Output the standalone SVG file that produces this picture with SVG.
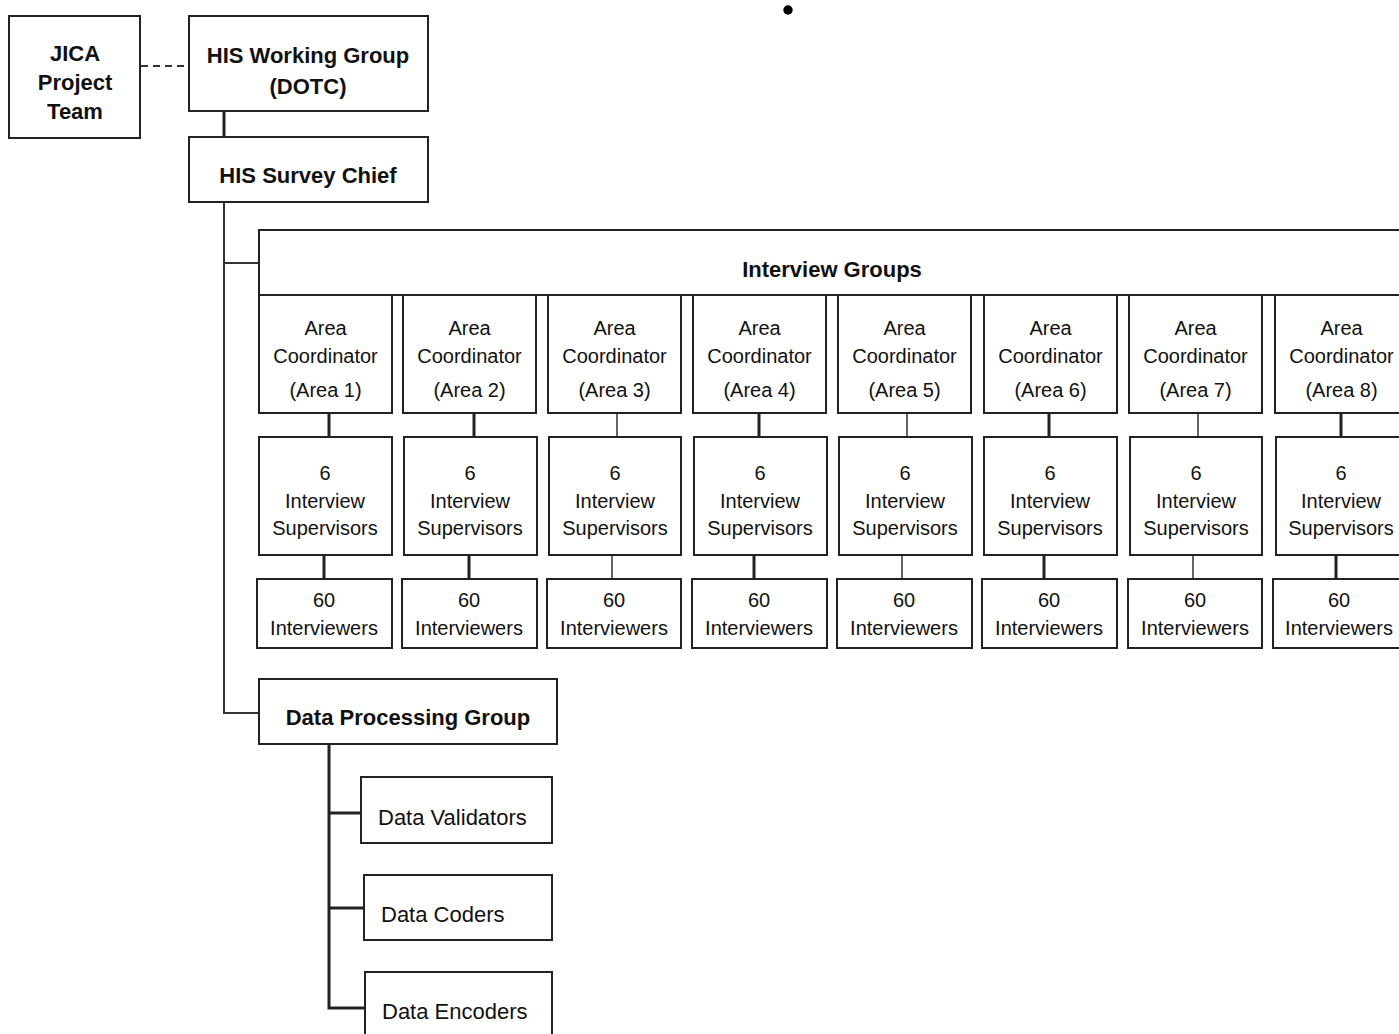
<svg xmlns="http://www.w3.org/2000/svg" width="1399" height="1034" viewBox="0 0 1399 1034">
<style>
.box{fill:#fff;stroke:#222;stroke-width:2}
.b{font-family:"Liberation Sans",Arial,sans-serif;font-weight:bold;font-size:22px;fill:#111;text-anchor:middle}
.t{font-family:"Liberation Sans",Arial,sans-serif;font-size:20px;fill:#111;text-anchor:middle}
.tl{font-family:"Liberation Sans",Arial,sans-serif;font-size:22px;fill:#111}
.c{stroke:#222;stroke-width:3;fill:none}
.cm{stroke:#333;stroke-width:2;fill:none}
.ct{stroke:#333;stroke-width:1.5;fill:none}
</style>
<rect width="1399" height="1034" fill="#fff"/>
<circle cx="788" cy="10" r="4.7" fill="#000"/>
<g id="connectors">
<line class="cm" x1="141" y1="66" x2="189" y2="66" stroke-dasharray="7,5"/>
<line class="c" x1="224" y1="111" x2="224" y2="137"/>
<polyline class="cm" points="224,202 224,713 259,713"/>
<line class="cm" x1="224" y1="263" x2="259" y2="263"/>
<polyline class="c" points="329,744 329,1008 365,1008"/>
<line class="c" x1="329" y1="813" x2="361" y2="813"/>
<line class="c" x1="329" y1="908" x2="364" y2="908"/>
<line class="c" x1="329" y1="413" x2="329" y2="437"/>
<line class="c" x1="324" y1="555" x2="324" y2="579"/>
<line class="c" x1="474" y1="413" x2="474" y2="437"/>
<line class="c" x1="469" y1="555" x2="469" y2="579"/>
<line class="ct" x1="617" y1="413" x2="617" y2="437"/>
<line class="ct" x1="612" y1="555" x2="612" y2="579"/>
<line class="c" x1="759" y1="413" x2="759" y2="437"/>
<line class="c" x1="754" y1="555" x2="754" y2="579"/>
<line class="ct" x1="907" y1="413" x2="907" y2="437"/>
<line class="ct" x1="902" y1="555" x2="902" y2="579"/>
<line class="c" x1="1049" y1="413" x2="1049" y2="437"/>
<line class="c" x1="1044" y1="555" x2="1044" y2="579"/>
<line class="ct" x1="1198" y1="413" x2="1198" y2="437"/>
<line class="ct" x1="1193" y1="555" x2="1193" y2="579"/>
<line class="c" x1="1341" y1="413" x2="1341" y2="437"/>
<line class="c" x1="1336" y1="555" x2="1336" y2="579"/>
</g>
<g id="jica"><rect class="box" x="9" y="16" width="131" height="122"/>
<text class="b" x="75" y="61">JICA</text><text class="b" x="75" y="90">Project</text><text class="b" x="75" y="119">Team</text></g>
<g id="working-group"><rect class="box" x="189" y="16" width="239" height="95"/>
<text class="b" x="308" y="63">HIS Working Group</text><text class="b" x="308" y="94">(DOTC)</text></g>
<g id="survey-chief"><rect class="box" x="189" y="137" width="239" height="65"/>
<text class="b" x="308" y="183">HIS Survey Chief</text></g>
<g id="interview-groups"><rect class="box" x="259" y="230" width="1150" height="65"/>
<text class="b" x="832" y="277">Interview Groups</text></g>
<g id="ac1"><rect class="box" x="259" y="295" width="133" height="118"/><text class="t" x="325.5" y="335">Area</text><text class="t" x="325.5" y="363">Coordinator</text><text class="t" x="325.5" y="397">(Area 1)</text></g>
<g id="ac2"><rect class="box" x="403" y="295" width="133" height="118"/><text class="t" x="469.5" y="335">Area</text><text class="t" x="469.5" y="363">Coordinator</text><text class="t" x="469.5" y="397">(Area 2)</text></g>
<g id="ac3"><rect class="box" x="548" y="295" width="133" height="118"/><text class="t" x="614.5" y="335">Area</text><text class="t" x="614.5" y="363">Coordinator</text><text class="t" x="614.5" y="397">(Area 3)</text></g>
<g id="ac4"><rect class="box" x="693" y="295" width="133" height="118"/><text class="t" x="759.5" y="335">Area</text><text class="t" x="759.5" y="363">Coordinator</text><text class="t" x="759.5" y="397">(Area 4)</text></g>
<g id="ac5"><rect class="box" x="838" y="295" width="133" height="118"/><text class="t" x="904.5" y="335">Area</text><text class="t" x="904.5" y="363">Coordinator</text><text class="t" x="904.5" y="397">(Area 5)</text></g>
<g id="ac6"><rect class="box" x="984" y="295" width="133" height="118"/><text class="t" x="1050.5" y="335">Area</text><text class="t" x="1050.5" y="363">Coordinator</text><text class="t" x="1050.5" y="397">(Area 6)</text></g>
<g id="ac7"><rect class="box" x="1129" y="295" width="133" height="118"/><text class="t" x="1195.5" y="335">Area</text><text class="t" x="1195.5" y="363">Coordinator</text><text class="t" x="1195.5" y="397">(Area 7)</text></g>
<g id="ac8"><rect class="box" x="1275" y="295" width="133" height="118"/><text class="t" x="1341.5" y="335">Area</text><text class="t" x="1341.5" y="363">Coordinator</text><text class="t" x="1341.5" y="397">(Area 8)</text></g>
<g id="is1"><rect class="box" x="259" y="437" width="133" height="118"/><text class="t" x="325" y="480">6</text><text class="t" x="325" y="508">Interview</text><text class="t" x="325" y="535">Supervisors</text></g>
<g id="is2"><rect class="box" x="404" y="437" width="133" height="118"/><text class="t" x="470" y="480">6</text><text class="t" x="470" y="508">Interview</text><text class="t" x="470" y="535">Supervisors</text></g>
<g id="is3"><rect class="box" x="549" y="437" width="132" height="118"/><text class="t" x="615" y="480">6</text><text class="t" x="615" y="508">Interview</text><text class="t" x="615" y="535">Supervisors</text></g>
<g id="is4"><rect class="box" x="694" y="437" width="133" height="118"/><text class="t" x="760" y="480">6</text><text class="t" x="760" y="508">Interview</text><text class="t" x="760" y="535">Supervisors</text></g>
<g id="is5"><rect class="box" x="839" y="437" width="133" height="118"/><text class="t" x="905" y="480">6</text><text class="t" x="905" y="508">Interview</text><text class="t" x="905" y="535">Supervisors</text></g>
<g id="is6"><rect class="box" x="984" y="437" width="133" height="118"/><text class="t" x="1050" y="480">6</text><text class="t" x="1050" y="508">Interview</text><text class="t" x="1050" y="535">Supervisors</text></g>
<g id="is7"><rect class="box" x="1130" y="437" width="132" height="118"/><text class="t" x="1196" y="480">6</text><text class="t" x="1196" y="508">Interview</text><text class="t" x="1196" y="535">Supervisors</text></g>
<g id="is8"><rect class="box" x="1276" y="437" width="133" height="118"/><text class="t" x="1341" y="480">6</text><text class="t" x="1341" y="508">Interview</text><text class="t" x="1341" y="535">Supervisors</text></g>
<g id="iv1"><rect class="box" x="257" y="579" width="135" height="69"/><text class="t" x="324" y="607">60</text><text class="t" x="324" y="635">Interviewers</text></g>
<g id="iv2"><rect class="box" x="402" y="579" width="135" height="69"/><text class="t" x="469" y="607">60</text><text class="t" x="469" y="635">Interviewers</text></g>
<g id="iv3"><rect class="box" x="547" y="579" width="134" height="69"/><text class="t" x="614" y="607">60</text><text class="t" x="614" y="635">Interviewers</text></g>
<g id="iv4"><rect class="box" x="692" y="579" width="135" height="69"/><text class="t" x="759" y="607">60</text><text class="t" x="759" y="635">Interviewers</text></g>
<g id="iv5"><rect class="box" x="837" y="579" width="135" height="69"/><text class="t" x="904" y="607">60</text><text class="t" x="904" y="635">Interviewers</text></g>
<g id="iv6"><rect class="box" x="982" y="579" width="135" height="69"/><text class="t" x="1049" y="607">60</text><text class="t" x="1049" y="635">Interviewers</text></g>
<g id="iv7"><rect class="box" x="1128" y="579" width="134" height="69"/><text class="t" x="1195" y="607">60</text><text class="t" x="1195" y="635">Interviewers</text></g>
<g id="iv8"><rect class="box" x="1273" y="579" width="135" height="69"/><text class="t" x="1339" y="607">60</text><text class="t" x="1339" y="635">Interviewers</text></g>
<g id="data-processing"><rect class="box" x="259" y="679" width="298" height="65"/>
<text class="b" x="408" y="725">Data Processing Group</text></g>
<g id="validators"><rect class="box" x="361" y="777" width="191" height="66"/><text class="tl" x="378" y="825">Data Validators</text></g>
<g id="coders"><rect class="box" x="364" y="875" width="188" height="65"/><text class="tl" x="381" y="922">Data Coders</text></g>
<g id="encoders"><rect class="box" x="365" y="972" width="187" height="80"/><text class="tl" x="382" y="1019">Data Encoders</text></g>
</svg>
